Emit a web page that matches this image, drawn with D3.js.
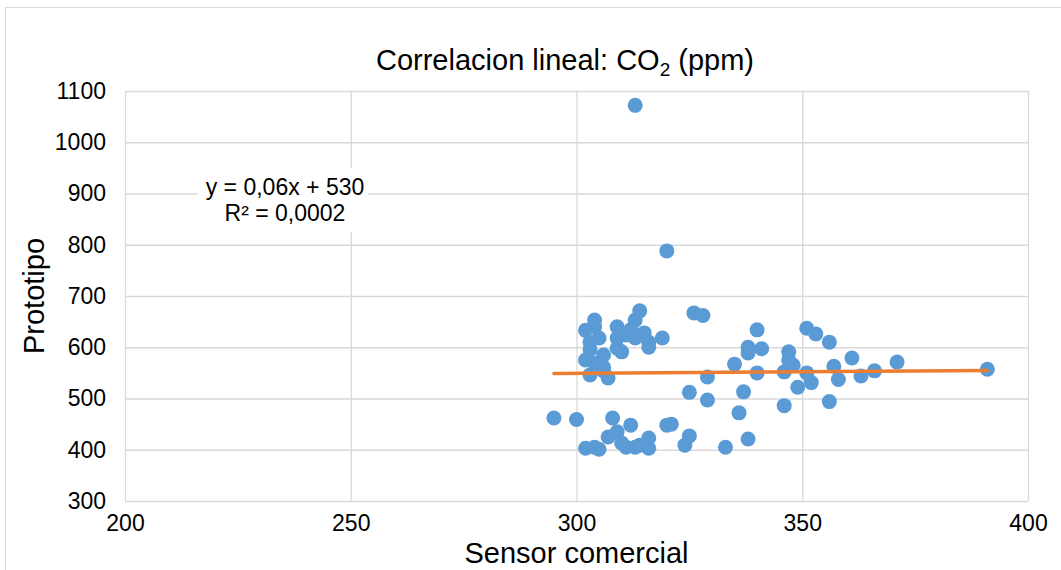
<!DOCTYPE html>
<html>
<head>
<meta charset="utf-8">
<script src="https://cdn.jsdelivr.net/npm/d3@7"></script>
<style>
  body { margin: 0; background: #fff; }
  text { font-family: "Liberation Sans", Arial, sans-serif; fill: #000; }
</style>
</head>
<body>
<svg width="1061" height="570"></svg>
<script>
// data
var sensorComercial = [
  302, 304, 304, 303, 305, 303, 306, 302, 304, 306, 303, 306, 307,
  309, 309, 309, 310, 311, 312, 313, 314, 313, 315, 316, 316, 319,
  300, 302, 304, 305, 307, 308, 309, 310, 311, 312, 313, 314, 316, 316, 320, 321,
  313, 320, 295, 326, 328, 340, 338, 338, 341, 335, 340, 329, 325, 329, 337,
  336, 325, 324, 333, 338, 346, 349, 352, 356, 358, 363, 347, 347, 348,
  346, 351, 353, 356, 351, 357, 361, 366, 371, 391
];
var prototipo = [
  633, 653, 640, 610, 618, 595, 585, 575, 569, 561, 546, 554, 540,
  640, 618, 598, 591, 624, 634, 653, 671, 618, 628, 610, 600, 618,
  459, 403, 405, 401, 425, 462, 435, 413, 405, 448, 405, 409, 423, 403, 448, 450,
  1072, 788, 462, 667, 662, 634, 600, 589, 597, 567, 550, 542, 512, 497, 513,
  472, 427, 409, 405, 421, 486, 522, 531, 494, 537, 544, 591, 575, 565,
  552, 637, 626, 610, 550, 563, 579, 554, 571, 557
];
var xTicks = [200, 250, 300, 350, 400];
var yTicks = [300, 400, 500, 600, 700, 800, 900, 1000, 1100];
var trendSlope = 0.06, trendIntercept = 531;
var eqLines = ['y = 0,06x + 530', 'R² = 0,0002'];

var svg = d3.select('svg');
var plot = {left: 125, right: 1028, top: 91, bottom: 501};

// chart border
svg.append('rect')
  .attr('x', 5.5).attr('y', 7.5)
  .attr('width', 1100).attr('height', 700)
  .attr('fill', 'none').attr('stroke', '#d9d9d9');

var x = d3.scaleLinear().domain([200, 400]).range([plot.left, plot.right]);
var y = d3.scaleLinear().domain([300, 1100]).range([plot.bottom, plot.top]);

// gridlines + labels
var gy = svg.append('g')
  .attr('transform', 'translate(' + plot.left + ',0)')
  .call(d3.axisLeft(y).tickValues(yTicks).tickFormat(d3.format('d'))
    .tickSize(-(plot.right - plot.left)).tickPadding(19));
var gx = svg.append('g')
  .attr('transform', 'translate(0,' + plot.bottom + ')')
  .call(d3.axisBottom(x).tickValues(xTicks).tickFormat(d3.format('d'))
    .tickSize(-(plot.bottom - plot.top)).tickPadding(14));

[gx, gy].forEach(function(g) {
  g.select('.domain').remove();
  g.selectAll('line').attr('stroke', '#d9d9d9').attr('stroke-width', 1.3);
  g.selectAll('text')
    .attr('fill', '#000')
    .style('font-size', '23px')
    .style('font-family', '"Liberation Sans", Arial, sans-serif');
});

// equation box
var eq = svg.append('g');
eq.append('rect')
  .attr('x', 198).attr('y', 168)
  .attr('width', 170).attr('height', 64)
  .attr('fill', '#fff');
eq.selectAll('text')
  .data(eqLines)
  .enter()
  .append('text')
  .attr('x', 285)
  .attr('y', function(d, i) { return 195 + i * 26; })
  .attr('text-anchor', 'middle')
  .style('font-size', '23px')
  .text(function(d) { return d; });

// points
svg.append('g')
  .selectAll('circle')
  .data(sensorComercial)
  .enter()
  .append('circle')
  .attr('cx', function(d) { return x(d); })
  .attr('cy', function(d, i) { return y(prototipo[i]); })
  .attr('r', 7.5)
  .attr('fill', '#5b9bd5');

// linear trend line
var xExt = d3.extent(sensorComercial);
svg.append('line')
  .attr('x1', x(xExt[0])).attr('y1', y(trendSlope * xExt[0] + trendIntercept))
  .attr('x2', x(xExt[1])).attr('y2', y(trendSlope * xExt[1] + trendIntercept))
  .attr('stroke', '#ed7d31')
  .attr('stroke-width', 3.5)
  .attr('stroke-linecap', 'round');

// titles
var title = svg.append('text')
  .attr('x', 565).attr('y', 70)
  .attr('text-anchor', 'middle')
  .style('font-size', '29px');
title.append('tspan').text('Correlacion lineal: CO');
title.append('tspan').attr('dy', 6).style('font-size', '19px').text('2');
title.append('tspan').attr('dy', -6).text(' (ppm)');

svg.append('text')
  .attr('x', (plot.left + plot.right) / 2).attr('y', 563)
  .attr('text-anchor', 'middle')
  .style('font-size', '29px')
  .text('Sensor comercial');

svg.append('text')
  .attr('transform', 'translate(44,' + (plot.top + plot.bottom) / 2 + ') rotate(-90)')
  .attr('text-anchor', 'middle')
  .style('font-size', '29px')
  .text('Prototipo');
</script>
</body>
</html>
